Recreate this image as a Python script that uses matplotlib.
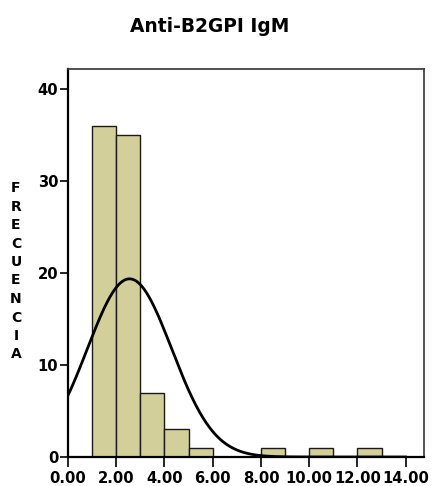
import numpy as np
import matplotlib
matplotlib.use("Agg")
import matplotlib.pyplot as plt

plt.rcParams['font.family'] = ['DejaVu Sans']

# Histogram of Anti-B2GPI IgM values (bins of width 1)
bin_left = [1, 2, 3, 4, 5, 8, 10, 12]
counts = [36, 35, 7, 3, 1, 1, 1, 1]
bin_width = 1.0

# Fitted normal curve parameters
fit_mean = 2.55
fit_sd = 1.75

x_ticks = [0, 2, 4, 6, 8, 10, 12, 14]
x_tick_labels = ["0.00", "2.00", "4.00", "6.00", "8.00", "10.00", "12.00", "14.00"]
y_ticks = [0, 10, 20, 30, 40]
y_title = "FRECUENCIA"

fig = plt.figure(figsize=(4.35, 4.86), dpi=100)
ax = fig.add_axes([68 / 435, 1 - 457 / 486, (424 - 68) / 435, (457 - 69) / 486])

ax.bar(bin_left, counts, width=bin_width, align='edge',
       color='#D3CF9B', edgecolor='#1a1a1a', linewidth=1.0, zorder=2)

n_total = sum(counts)
xs = np.linspace(0, 14, 400)
ys = n_total * bin_width / (fit_sd * np.sqrt(2 * np.pi)) * np.exp(-0.5 * ((xs - fit_mean) / fit_sd) ** 2)
ax.plot(xs, ys, color='black', linewidth=2.0, zorder=3)

ax.set_xlim(0, 14.76)
ax.set_ylim(0, 42.2)
ax.set_xticks(x_ticks)
ax.set_xticklabels(x_tick_labels)
ax.set_yticks(y_ticks)
for lbl in ax.get_xticklabels() + ax.get_yticklabels():
    lbl.set_fontweight('bold')
    lbl.set_fontsize(10.6)
ax.tick_params(axis='x', direction='out', length=7, width=1.2, color='black', pad=3)
ax.tick_params(axis='y', direction='out', length=6, width=1.2, color='black', pad=1)

for side in ['left', 'bottom']:
    ax.spines[side].set_linewidth(1.6)
    ax.spines[side].set_color('black')
for side in ['top', 'right']:
    ax.spines[side].set_linewidth(1.2)
    ax.spines[side].set_color('#333333')

fig.text(210 / 435, 1 - 26 / 486, "Anti-B2GPI IgM", ha='center', va='center',
         fontsize=13.4, fontweight='bold')

# Vertical axis title, one letter per line
y_first, y_step = 188, 18.5
for i, ch in enumerate(y_title):
    fig.text(16 / 435, 1 - (y_first + i * y_step) / 486, ch, ha='center', va='center',
             fontsize=10, fontweight='bold')

fig.savefig("out.png", dpi=100)
